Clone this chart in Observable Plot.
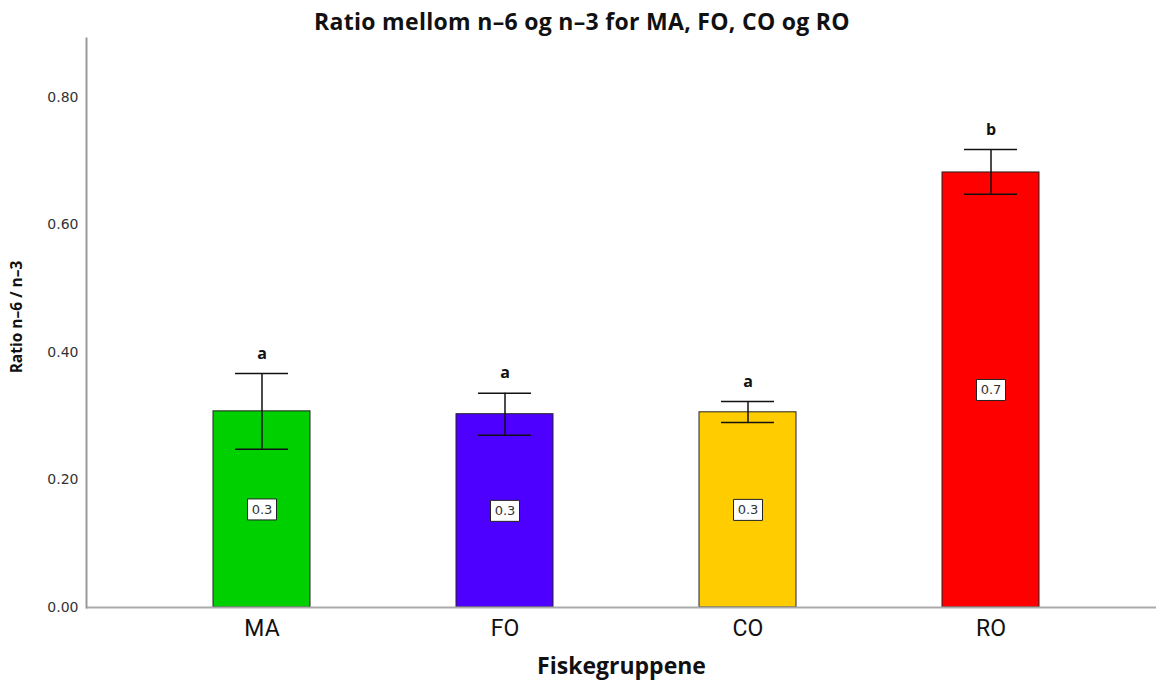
<!DOCTYPE html>
<html>
<head>
<meta charset="utf-8">
<script src="https://cdn.jsdelivr.net/npm/d3@7"></script>
<script src="https://cdn.jsdelivr.net/npm/@observablehq/plot@0.6"></script>
<style>
  html, body { margin: 0; padding: 0; background: #fff; }
  #title { height: 36px; line-height: 36px; padding-top: 3px; box-sizing: border-box; text-align: center;
           font-family: "Open Sans", sans-serif; font-weight: bold; font-size: 23px; letter-spacing: 0.3px; color: #111; width: 1164px; white-space: nowrap; }
</style>
</head>
<body>
<div id="title">Ratio mellom n–6 og n–3 for MA, FO, CO og RO</div>
<div id="chart"></div>
<script>
const groups = ["MA", "FO", "CO", "RO"];
const means = [0.3075, 0.303, 0.306, 0.682];
const errLow = [0.248, 0.270, 0.290, 0.648];
const errHigh = [0.367, 0.336, 0.323, 0.718];
const letters = ["a", "a", "a", "b"];
const barColors = ["#00d000", "#4d00ff", "#ffcc00", "#ff0000"];
const yTicks = [0, 0.2, 0.4, 0.6, 0.8];

const data = groups.map((g, i) => ({group: g, value: means[i], lo: errLow[i], hi: errHigh[i], letter: letters[i]}));

const boxSymbol = { draw(ctx) { ctx.rect(-14.5, -10.5, 29, 21); } };

const chart = Plot.plot({
  width: 1156,
  height: 648,
  marginTop: 2,
  marginLeft: 86,
  marginRight: 0,
  marginBottom: 77,
  style: {fontFamily: "'Open Sans', sans-serif", background: "white"},
  x: {domain: groups, paddingInner: 0.6, paddingOuter: 0.5, align: 0.522, label: null},
  y: {domain: [0, 0.892], label: null},
  color: {domain: groups, range: barColors},
  marks: [
    Plot.barY(data, {x: "group", y: "value", fill: "group", stroke: "#222", strokeWidth: 1}),
    Plot.ruleX(data, {x: "group", y1: "lo", y2: "hi", stroke: "#111", strokeWidth: 1.5}),
    Plot.tickY(data, {x: "group", y: "lo", stroke: "#111", strokeWidth: 1.5, insetLeft: 22, insetRight: 22}),
    Plot.tickY(data, {x: "group", y: "hi", stroke: "#111", strokeWidth: 1.5, insetLeft: 22, insetRight: 22}),
    Plot.text(data, {x: "group", y: "hi", text: "letter", dy: -20, fontWeight: "bold", fontSize: 16, fill: "#111"}),
    Plot.dot(data, {x: "group", y: d => d.value / 2, symbol: boxSymbol, fill: "white", stroke: "#222", strokeWidth: 1}),
    Plot.text(data, {x: "group", y: d => d.value / 2, text: d => d.value.toFixed(1), fontSize: 13, fontFamily: "DejaVu Sans", fill: "#333"}),
    Plot.ruleY([0], {stroke: "#aaa", strokeWidth: 2}),
    Plot.frame({anchor: "left", stroke: "#999", strokeWidth: 2}),
    Plot.axisY({ticks: yTicks, tickFormat: d3.format(".2f"), tickSize: 0, tickPadding: 8, fontSize: 14, fontFamily: "DejaVu Sans", fill: "#333", label: null}),
    Plot.axisX({tickSize: 0, tickPadding: 12, fontSize: 23, fontFamily: "Roboto", fill: "#111", label: null}),
    Plot.text(["Ratio n–6 / n–3"], {frameAnchor: "left", textAnchor: "middle", rotate: -90, dx: -69, dy: -6, fontWeight: "bold", fontSize: 15.5, fill: "#111"}),
    Plot.text(["Fiskegruppene"], {frameAnchor: "bottom", dy: 66, fontWeight: "bold", fontSize: 23, fill: "#111"})
  ]
});
document.getElementById("chart").appendChild(chart);
</script>
</body>
</html>
